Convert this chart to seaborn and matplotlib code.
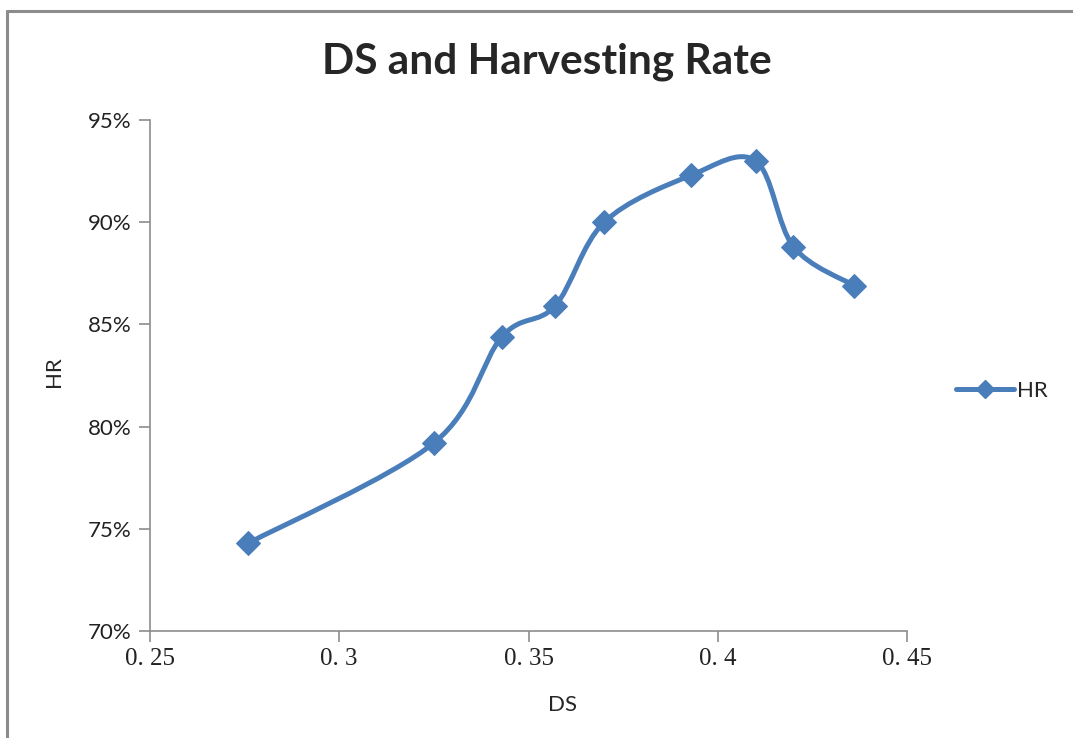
import matplotlib
matplotlib.use('Agg')
import matplotlib.pyplot as plt
import seaborn as sns
from matplotlib.path import Path
from matplotlib.patches import PathPatch
from matplotlib.lines import Line2D
from matplotlib.ticker import FuncFormatter

ds = [0.276, 0.325, 0.343, 0.357, 0.370, 0.393, 0.410, 0.420, 0.436]
hr = [0.743, 0.792, 0.844, 0.859, 0.900, 0.923, 0.930, 0.888, 0.869]
x_ticks = [0.25, 0.30, 0.35, 0.40, 0.45]
y_ticks = [0.70, 0.75, 0.80, 0.85, 0.90, 0.95]

BLUE = '#4a7ebb'
GREY = '#8c8c8c'


def smooth_path(xs, ys):
    # excel-style smoothed line: cubic bezier segments through each point
    pts = list(zip(xs, ys))
    verts = [pts[0]]
    codes = [Path.MOVETO]
    n = len(pts)
    for i in range(n - 1):
        p0 = pts[i - 1] if i > 0 else pts[i]
        p1 = pts[i]
        p2 = pts[i + 1]
        p3 = pts[i + 2] if i + 2 < n else pts[i + 1]
        c1 = (p1[0] + (p2[0] - p0[0]) / 6, p1[1] + (p2[1] - p0[1]) / 6)
        c2 = (p2[0] - (p3[0] - p1[0]) / 6, p2[1] - (p3[1] - p1[1]) / 6)
        verts += [c1, c2, p2]
        codes += [Path.CURVE4] * 3
    return Path(verts, codes)


def main():
    sns.set_style('white')
    plt.rcParams['font.family'] = ['Lato', 'DejaVu Sans']

    fig = plt.figure(figsize=(10.73, 7.38), dpi=100)
    ax = fig.add_axes([150 / 1073, 1 - 631 / 738, 757 / 1073, 511 / 738])

    ax.add_patch(PathPatch(smooth_path(ds, hr), facecolor='none', edgecolor=BLUE,
                           linewidth=3.6, capstyle='round', joinstyle='round', zorder=2))
    sns.lineplot(x=ds, y=hr, marker='D', markersize=12, color=BLUE, linewidth=0,
                 markeredgecolor=BLUE, ax=ax, legend=False, zorder=3)

    ax.set_xlim(0.25, 0.45)
    ax.set_ylim(0.70, 0.95)
    ax.set_xticks(x_ticks)
    ax.set_yticks(y_ticks)
    ax.xaxis.set_major_formatter(FuncFormatter(lambda v, p: f'{v:g}'.replace('.', '. ')))
    ax.yaxis.set_major_formatter(FuncFormatter(lambda v, p: f'{v * 100:.0f}%'))
    ax.tick_params(axis='y', labelsize=16, colors='#222222', length=8, width=1.2,
                   direction='out', left=True, pad=5)
    ax.tick_params(axis='x', labelsize=18, colors='#222222', length=8, width=1.2,
                   direction='out', bottom=True, pad=4)
    ax.tick_params(axis='both', color=GREY)
    for lab in ax.get_xticklabels():
        lab.set_fontfamily('Liberation Serif')
    for side in ['top', 'right']:
        ax.spines[side].set_visible(False)
    for side in ['left', 'bottom']:
        ax.spines[side].set_color(GREY)
        ax.spines[side].set_linewidth(1.2)

    ax.set_xlabel('DS', fontsize=16)
    ax.set_ylabel('HR', fontsize=16)
    ax.xaxis.set_label_coords((562 - 150) / 757, -(695 - 631) / 511)
    ax.yaxis.set_label_coords(-(150 - 64) / 757, (631 - 372) / 511)
    fig.text(547 / 1073, 1 - 62 / 738, 'DS and Harvesting Rate', ha='center', va='center',
             fontsize=30.5, fontweight='bold')

    handle = Line2D([], [], color=BLUE, linewidth=3.6, marker='D', markersize=9)
    fig.legend(handles=[handle], labels=['HR'], loc='center left',
               bbox_to_anchor=(936 / 1073, 1 - 391 / 738), frameon=False,
               fontsize=16, handlelength=2.6, handletextpad=0.15)

    # chart area border (top and left edges visible)
    fig.add_artist(Line2D([7 / 1073, 1.0], [1 - 11 / 738, 1 - 11 / 738],
                          transform=fig.transFigure, color=GREY, linewidth=2.2))
    fig.add_artist(Line2D([7 / 1073, 7 / 1073], [0.0, 1 - 11 / 738],
                          transform=fig.transFigure, color=GREY, linewidth=2.2))

    fig.savefig('out.png', dpi=100, facecolor='white')


if __name__ == '__main__':
    main()
